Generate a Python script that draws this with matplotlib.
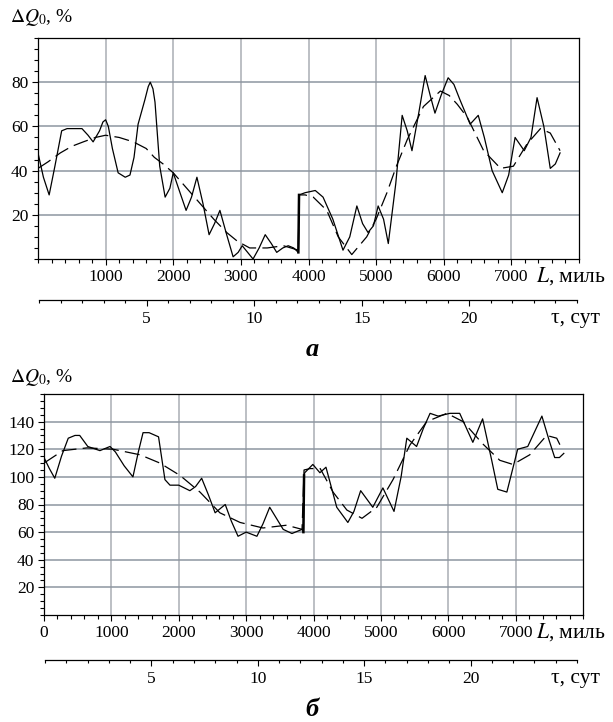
import matplotlib
matplotlib.use("Agg")
import matplotlib.pyplot as plt
from matplotlib.ticker import MultipleLocator, FixedLocator

plt.rcParams['font.family'] = ['Liberation Serif', 'DejaVu Serif']
plt.rcParams['mathtext.fontset'] = 'stix'

# Panel "а": measured curve (solid) and trend (dashed), L in miles
L_a = [0, 80, 165, 250, 350, 430, 550, 650, 740, 815, 910, 960, 1000, 1040, 1100,
       1185, 1290, 1360, 1420, 1480, 1580, 1630, 1660, 1700, 1730, 1800, 1880, 1950,
       2000, 2100, 2190, 2270, 2350, 2440, 2530, 2610, 2690, 2790, 2885, 2960, 3020,
       3100, 3180, 3270, 3360, 3450, 3530, 3620, 3700, 3780, 3850, 3860, 3950, 4100,
       4215, 4360, 4510, 4610, 4715, 4800, 4880, 4960, 5030, 5110, 5180, 5290, 5385,
       5460, 5530, 5630, 5725, 5800, 5870, 5960, 6065, 6150, 6240, 6390, 6510, 6600,
       6715, 6865, 6960, 7055, 7190, 7290, 7380, 7480, 7575, 7650, 7720]
Q_a = [48, 37, 29, 42, 58, 59, 59, 59, 56, 53, 58, 62, 63, 60, 50,
       39, 37, 38, 46, 61, 72, 78, 80, 77, 71, 42, 28, 32,
       39, 30, 22, 28, 37, 25, 11, 16, 22, 11, 1, 3, 6,
       3, 0, 5, 11, 7, 3, 5, 6, 5, 3, 29, 30, 31,
       28, 18, 4, 10, 24, 16, 12, 15, 24, 18, 7, 34, 65,
       58, 49, 66, 83, 74, 66, 74, 82, 79, 72, 61, 65, 55,
       40, 30, 38, 55, 49, 55, 73, 60, 41, 43, 48]
L_a_trend = [0, 150, 330, 500, 670, 850, 1000, 1200, 1410, 1600, 1720, 1850, 2000,
             2200, 2400, 2600, 2790, 2950, 3130, 3390, 3630, 3850, 3860, 3950, 4070,
             4270, 4440, 4640, 4860, 5000, 5160, 5300, 5460, 5700, 5950, 6080, 6200,
             6350, 6590, 6840, 7030, 7230, 7430, 7575, 7720]
Q_a_trend = [41, 44, 48, 51, 53, 55, 56, 55, 53, 50, 46, 43, 39,
             32, 25, 18, 12, 8, 5, 5, 6, 4, 29, 29, 28,
             22, 10, 2, 10, 18, 30, 42, 54, 69, 76, 74, 70,
             64, 49, 41, 42, 52, 59, 57, 49]

# Panel "б"
L_b = [0, 80, 160, 260, 360, 460, 530, 650, 830, 980, 1060, 1190, 1320, 1400, 1470,
       1560, 1700, 1795, 1870, 2000, 2165, 2250, 2340, 2440, 2540, 2690, 2780, 2880,
       3000, 3160, 3250, 3350, 3450, 3550, 3680, 3830, 3850, 3860, 3870, 3990, 4095,
       4185, 4345, 4510, 4600, 4700, 4880, 5030, 5195, 5300, 5385, 5530, 5630, 5730,
       5850, 6025, 6170, 6365, 6510, 6645, 6735, 6870, 7030, 7180, 7390, 7500, 7580,
       7650, 7715]
Q_b = [114, 106, 99, 115, 128, 130, 130, 122, 119, 122, 118, 108, 100, 118, 132,
       132, 129, 98, 94, 94, 90, 93, 99, 87, 74, 80, 68, 57,
       60, 57, 66, 78, 70, 62, 59, 62, 60, 101, 103, 109, 103,
       107, 78, 67, 75, 90, 78, 92, 75, 100, 128, 122, 135, 146,
       144, 146, 146, 125, 142, 112, 91, 89, 120, 122, 144, 126, 114,
       114, 117]
L_b_trend = [0, 280, 640, 1025, 1425, 1720, 2020, 2315, 2610, 2910, 3250, 3600, 3830,
             3860, 3950, 4100, 4290, 4495, 4720, 4940, 5180, 5430, 5680, 5980, 6220,
             6510, 6765, 6960, 7210, 7460, 7610, 7680]
Q_b_trend = [110, 119, 121, 120, 116, 110, 101, 89, 74, 67, 63, 65, 62,
             105, 106, 106, 89, 76, 70, 78, 98, 123, 140, 146, 140,
             124, 112, 109, 116, 130, 128, 121]

L_ticks_a = [1000, 2000, 3000, 4000, 5000, 6000, 7000]
L_ticks_b = [0, 1000, 2000, 3000, 4000, 5000, 6000, 7000]
tau_ticks = [5, 10, 15, 20]
Q_ticks_a = [20, 40, 60, 80]
Q_ticks_b = [20, 40, 60, 80, 100, 120, 140]

W, H = 613, 722
FS = 12.5


def px(x, y):
    """Pixel position -> figure fraction."""
    return x / W, 1 - y / H


def draw_panel(fig, box, tau_y, L, Q, Lt, Qt, xticks, yticks, ymax, letter,
               letter_y, lab_y, tau_lab_y, ylab_y, jump):
    left, top, right, bottom = box
    x0, y0 = px(left, bottom)
    x1, y1 = px(right, top)
    ax = fig.add_axes([x0, y0, x1 - x0, y1 - y0])

    ax.plot(L, Q, color='black', lw=0.9)
    ax.plot(Lt, Qt, color='black', lw=0.9, linestyle=(0, (12, 5)))
    # vertical jump drawn heavier, as in the source
    ax.plot(L[jump:jump + 2], Q[jump:jump + 2], color='black', lw=1.8)

    ax.set_xlim(0, 8000)
    ax.set_ylim(0, ymax)
    ax.xaxis.set_major_locator(FixedLocator(xticks))
    ax.xaxis.set_minor_locator(MultipleLocator(200))
    ax.yaxis.set_major_locator(FixedLocator(yticks))
    ax.yaxis.set_minor_locator(MultipleLocator(5))
    ax.tick_params(which='both', direction='out', labelsize=FS, width=0.8, color='black')
    ax.tick_params(which='major', length=4, pad=3)
    ax.tick_params(which='minor', length=3)
    for s in ax.spines.values():
        s.set_linewidth(0.9)
    for v in xticks:
        if v > 0:
            ax.axvline(v, color='#a9aeb4', lw=1.1, zorder=0)
    for v in yticks:
        ax.axhline(v, color='#8d96a0', lw=1.1, zorder=0)

    # tau (days) scale drawn as a bare axis below
    tx0, tyf = px(left + 1, tau_y)
    tx1, _ = px(577, tau_y)
    tax = fig.add_axes([tx0, tyf, tx1 - tx0, 0.0001])
    tax.set_xlim(0, 25)
    tax.set_yticks([])
    for k in ('top', 'left', 'right'):
        tax.spines[k].set_visible(False)
    tax.spines['bottom'].set_linewidth(0.9)
    tax.xaxis.set_major_locator(FixedLocator(tau_ticks))
    tax.xaxis.set_minor_locator(MultipleLocator(1))
    tax.tick_params(which='both', direction='out', labelsize=FS, width=0.8)
    tax.tick_params(which='major', length=4, pad=4)
    tax.tick_params(which='minor', length=2.5)
    tax.patch.set_visible(False)

    fx, fy = px(536, lab_y)
    fig.text(fx, fy, r'$L$, миль', fontsize=15.5, va='center', ha='left')
    fx, fy = px(551, tau_lab_y)
    fig.text(fx, fy, 'τ, сут', fontsize=15.5, va='center', ha='left')
    fx, fy = px(10, ylab_y)
    fig.text(fx, fy, r'$\Delta Q_{0}$, %', fontsize=14, va='center', ha='left')
    fx, fy = px(312, letter_y)
    fig.text(fx, fy, letter, fontsize=19, fontweight='bold',
             fontstyle='italic', va='center', ha='center')
    return ax


fig = plt.figure(figsize=(W / 100, H / 100), dpi=100)
draw_panel(fig, (38, 38, 579, 259), 300, L_a, Q_a, L_a_trend, Q_a_trend,
           L_ticks_a, Q_ticks_a, 100, 'а', 350, 276, 319, 18, L_a.index(3850))
draw_panel(fig, (44, 394, 583, 615), 660, L_b, Q_b, L_b_trend, Q_b_trend,
           L_ticks_b, Q_ticks_b, 160, 'б', 710, 632, 678, 377, L_b.index(3860) - 1)
fig.savefig('out.png', dpi=100)
